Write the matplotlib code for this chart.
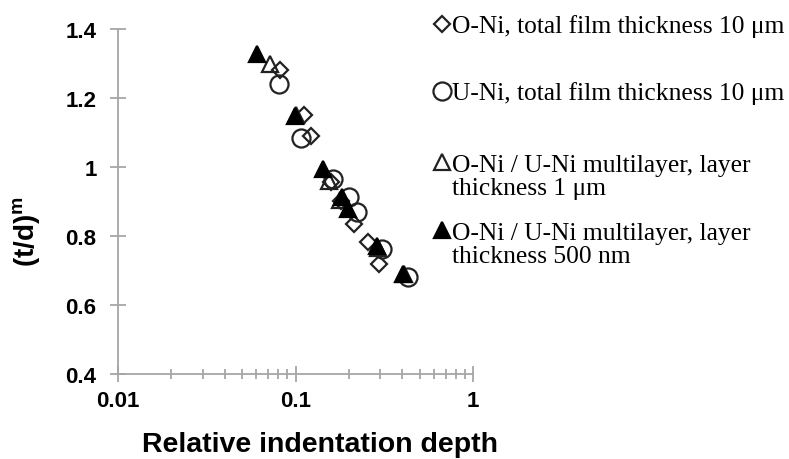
import numpy as np
import matplotlib
matplotlib.use("Agg")
import matplotlib.pyplot as plt
from matplotlib.lines import Line2D

# Data
oni_x = [0.082, 0.112, 0.123, 0.158, 0.18, 0.214, 0.257, 0.295]
oni_y = [1.28, 1.15, 1.09, 0.956, 0.90, 0.835, 0.782, 0.719]

uni_x = [0.081, 0.108, 0.163, 0.199, 0.221, 0.306, 0.428]
uni_y = [1.241, 1.083, 0.965, 0.912, 0.869, 0.762, 0.680]

ml1_x = [0.0718, 0.100, 0.155, 0.177, 0.29, 0.41]
ml1_y = [1.299, 1.15, 0.96, 0.905, 0.765, 0.69]

ml500_x = [0.0605, 0.0993, 0.1435, 0.182, 0.198, 0.286, 0.405]
ml500_y = [1.327, 1.147, 0.994, 0.912, 0.878, 0.772, 0.690]

labels = [
    ["O-Ni, total film thickness 10 \u03bcm"],
    ["U-Ni, total film thickness 10 \u03bcm"],
    ["O-Ni / U-Ni multilayer, layer", "thickness 1 \u03bcm"],
    ["O-Ni / U-Ni multilayer, layer", "thickness 500 nm"],
]

xticks = [0.01, 0.1, 1]
xtick_labels = ["0.01", "0.1", "1"]
yticks = [0.4, 0.6, 0.8, 1.0, 1.2, 1.4]
ytick_labels = ["0.4", "0.6", "0.8", "1", "1.2", "1.4"]

plt.rcParams["font.family"] = "Liberation Sans"
plt.rcParams["mathtext.fontset"] = "custom"
plt.rcParams["mathtext.bf"] = "Liberation Sans:bold"

fig = plt.figure(figsize=(7.89, 4.6), dpi=100)
ax = fig.add_axes([0.1496, 0.1848, 0.4499, 0.75])

edge = "#222222"
lw = 1.6
h1, = ax.plot(oni_x, oni_y, ls="none", marker="D", ms=8.5, mfc="none", mec=edge, mew=lw)
h2, = ax.plot(uni_x, uni_y, ls="none", marker="o", ms=13, mfc="none", mec=edge, mew=lw)
h3, = ax.plot(ml1_x, ml1_y, ls="none", marker="^", ms=12, mfc="none", mec=edge, mew=lw)
h4, = ax.plot(ml500_x, ml500_y, ls="none", marker="^", ms=12, mfc="black", mec="black", mew=lw)

ax.set_xscale("log")
ax.set_xlim(0.01, 1)
ax.set_ylim(0.4, 1.4)
ax.set_xticks(xticks)
ax.set_xticklabels(xtick_labels)
ax.set_yticks(yticks)
ax.set_yticklabels(ytick_labels)

grey = "#a6a6a6"
for side in ["top", "right"]:
    ax.spines[side].set_visible(False)
for side in ["left", "bottom"]:
    ax.spines[side].set_color(grey)
    ax.spines[side].set_linewidth(1.3)
ax.tick_params(axis="both", which="major", direction="inout", length=11,
               width=1.3, color=grey, labelsize=16)
ax.tick_params(axis="x", which="major", pad=6)
ax.tick_params(axis="y", which="major", pad=10)
ax.tick_params(axis="x", which="minor", direction="inout", length=7,
               width=1.3, color=grey)
for t in ax.get_xticklabels() + ax.get_yticklabels():
    t.set_fontweight("bold")

ax.set_xlabel("Relative indentation depth", fontsize=20.5, fontweight="bold")
ax.xaxis.set_label_coords(0.569, -0.165)
ax.set_ylabel("(t/d)$^{\\mathbf{m}}$", fontsize=20, fontweight="bold")
ax.yaxis.set_label_coords(-0.21, 0.417)

# Legend: one block per series, first text line next to the marker
blank = Line2D([], [], ls="none", marker="none")
centers = [27, 94, 177, 245]
for handle, lab, yc in zip([h1, h2, h3, h4], labels, centers):
    hs = [handle] + [blank] * (len(lab) - 1)
    fig.legend(hs, lab, loc="center left", bbox_to_anchor=(433 / 789, 1 - yc / 460),
               frameon=False, borderpad=0, borderaxespad=0, labelspacing=0,
               handlelength=0.7, handletextpad=0.05,
               prop={"family": "Liberation Serif", "size": 18.4})

fig.savefig("out.png", dpi=100)
